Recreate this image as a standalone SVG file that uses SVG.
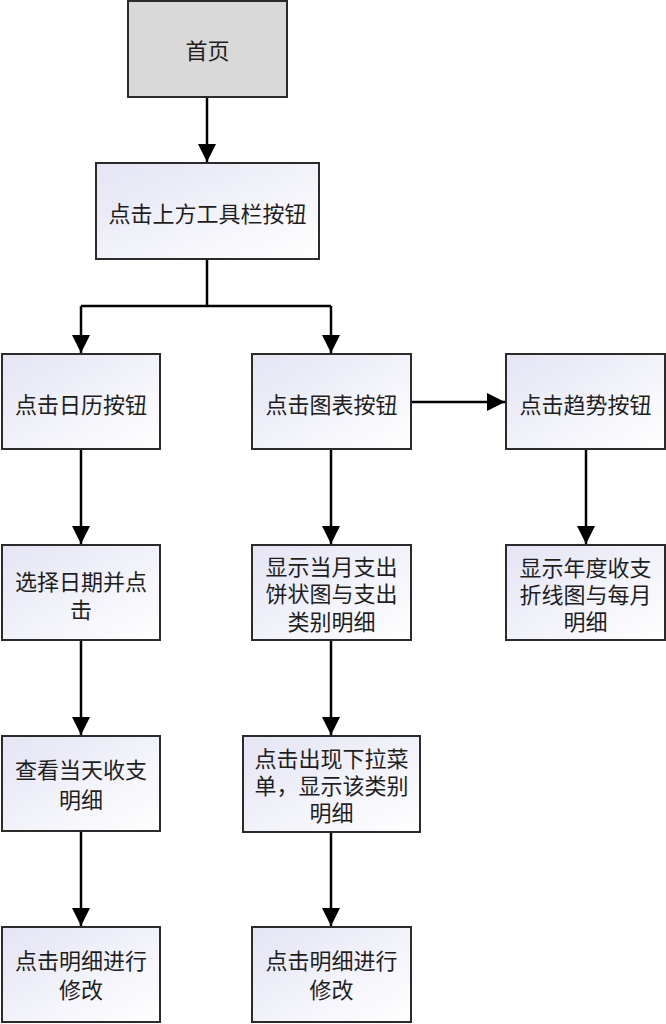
<svg xmlns="http://www.w3.org/2000/svg" width="666" height="1024" viewBox="0 0 666 1024">
<style>
.box{fill:url(#g);stroke:#2b2b2b;stroke-width:2}
.grey{fill:#d9d9d9;stroke:#2b2b2b;stroke-width:2}
.t{font-family:"Noto Sans CJK SC","Noto Sans",sans-serif;font-size:22px;fill:#1e1e1e;text-anchor:middle;dominant-baseline:central}
.c{fill:none;stroke:#000;stroke-width:2.5}
</style>
<defs>
<linearGradient id="g" x1="0" y1="0" x2="1" y2="1">
<stop offset="0" stop-color="#e4e4f4"/>
<stop offset="1" stop-color="#ffffff"/>
</linearGradient>
<marker id="a" markerUnits="userSpaceOnUse" markerWidth="18" markerHeight="18" viewBox="0 0 16 16" refX="16" refY="8" orient="auto">
<path d="M0,0 L16,8 L0,16 Z" fill="#000"/>
</marker>
</defs>
<g id="connectors">
<path class="c" d="M207,97 V162" marker-end="url(#a)"/>
<path class="c" d="M207,259 V306"/>
<path class="c" d="M81,306 H331"/>
<path class="c" d="M81,306 V353" marker-end="url(#a)"/>
<path class="c" d="M331,306 V353" marker-end="url(#a)"/>
<path class="c" d="M411,402 H505" marker-end="url(#a)"/>
<path class="c" d="M81,449 V544" marker-end="url(#a)"/>
<path class="c" d="M331,449 V544" marker-end="url(#a)"/>
<path class="c" d="M586,449 V544" marker-end="url(#a)"/>
<path class="c" d="M81,640 V735" marker-end="url(#a)"/>
<path class="c" d="M331,640 V735" marker-end="url(#a)"/>
<path class="c" d="M81,831 V926" marker-end="url(#a)"/>
<path class="c" d="M331,832 V926" marker-end="url(#a)"/>
</g>
<g id="home"><rect class="grey" x="128" y="1" width="159" height="96"/><text class="t" x="207.5" y="49">首页</text></g>
<g id="toolbar"><rect class="box" x="96" y="163" width="223" height="96"/><text class="t" x="207.5" y="212">点击上方工具栏按钮</text></g>
<g id="calendar"><rect class="box" x="2" y="354" width="158" height="95"/><text class="t" x="81" y="403">点击日历按钮</text></g>
<g id="chart"><rect class="box" x="252" y="354" width="159" height="95"/><text class="t" x="331.5" y="403">点击图表按钮</text></g>
<g id="trend"><rect class="box" x="506" y="354" width="159" height="95"/><text class="t" x="585.5" y="403">点击趋势按钮</text></g>
<g id="selectdate"><rect class="box" x="2" y="545" width="158" height="95"/><text class="t" x="81" y="580">选择日期并点</text><text class="t" x="81" y="608">击</text></g>
<g id="pie"><rect class="box" x="252" y="545" width="159" height="95"/><text class="t" x="331.5" y="565">显示当月支出</text><text class="t" x="331.5" y="592">饼状图与支出</text><text class="t" x="331.5" y="620">类别明细</text></g>
<g id="line"><rect class="box" x="506" y="545" width="159" height="95"/><text class="t" x="585.5" y="566">显示年度收支</text><text class="t" x="585.5" y="593">折线图与每月</text><text class="t" x="585.5" y="620">明细</text></g>
<g id="daydetail"><rect class="box" x="2" y="736" width="158" height="95"/><text class="t" x="81" y="768">查看当天收支</text><text class="t" x="81" y="798">明细</text></g>
<g id="dropdown"><rect class="box" x="243" y="736" width="177" height="96"/><text class="t" x="331.5" y="757">点击出现下拉菜</text><text class="t" x="331.5" y="784">单，显示该类别</text><text class="t" x="331.5" y="811">明细</text></g>
<g id="edit1"><rect class="box" x="2" y="927" width="158" height="95"/><text class="t" x="81" y="959">点击明细进行</text><text class="t" x="81" y="988">修改</text></g>
<g id="edit2"><rect class="box" x="252" y="927" width="159" height="95"/><text class="t" x="331.5" y="959">点击明细进行</text><text class="t" x="331.5" y="988">修改</text></g>
</svg>
